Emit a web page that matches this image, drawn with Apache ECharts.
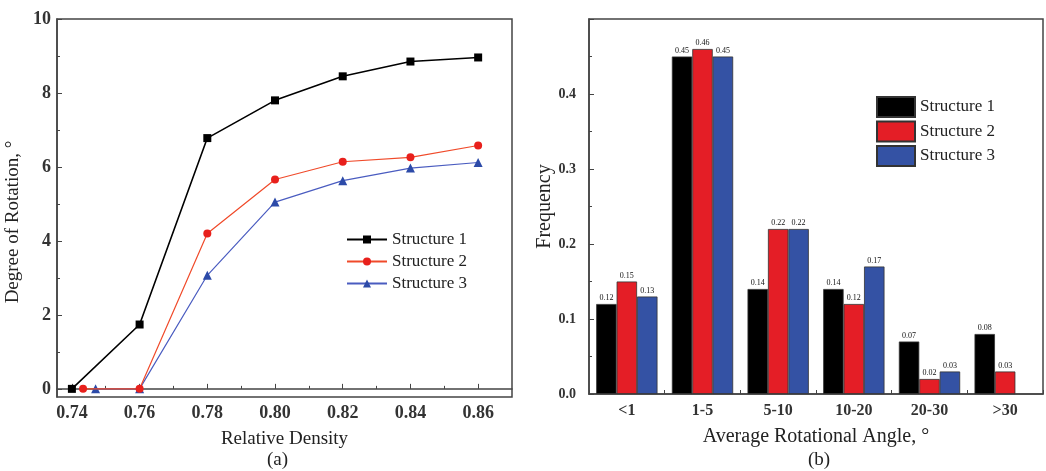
<!DOCTYPE html>
<html>
<head>
<meta charset="utf-8">
<script src="https://cdn.jsdelivr.net/npm/echarts@6/dist/echarts.min.js"></script>
<style>html,body{margin:0;padding:0;background:#fff}#c{width:1046px;height:471px}</style>
</head>
<body>
<div id="c"></div>
<script>
// ---- Panel (a) data ----
const seriesNames = ['Structure 1', 'Structure 2', 'Structure 3'];
const s1Density = [0.7400, 0.76, 0.78, 0.80, 0.82, 0.84, 0.86];
const s1Rotation = [0, 1.74, 6.78, 7.80, 8.45, 8.85, 8.96];
const s2Density = [0.7433, 0.76, 0.78, 0.80, 0.82, 0.84, 0.86];
const s2Rotation = [0, 0, 4.20, 5.66, 6.14, 6.26, 6.58];
const s3Density = [0.7470, 0.76, 0.78, 0.80, 0.82, 0.84, 0.86];
const s3Rotation = [0, 0, 3.07, 5.05, 5.63, 5.97, 6.12];
const densityTicks = [0.74, 0.76, 0.78, 0.80, 0.82, 0.84, 0.86];
const densityMinorTicks = [0.75, 0.77, 0.79, 0.81, 0.83, 0.85];
const rotationTicks = [0, 2, 4, 6, 8, 10];
const rotationMinorTicks = [1, 3, 5, 7, 9];

// ---- Panel (b) data ----
const angleCategories = ['<1', '1-5', '5-10', '10-20', '20-30', '>30'];
const freqS1 = [0.12, 0.45, 0.14, 0.14, 0.07, 0.08];
const freqS2 = [0.15, 0.46, 0.22, 0.12, 0.02, 0.03];
const freqS3 = [0.13, 0.45, 0.22, 0.17, 0.03, null];

const FONT = 'Liberation Serif';
const TXT = '#222';
const AX = '#444';

function pair(xs, ys) { return xs.map((x, i) => [x, ys[i]]); }

const lineColors = ['#000000', '#f04a2a', '#4a5cc0'];
const markerColors = ['#000000', '#e8201c', '#2c4aa8'];
const symbols = ['rect', 'circle', 'triangle'];
const symbolSizes = [8, 8, 9];
const lineData = [pair(s1Density, s1Rotation), pair(s2Density, s2Rotation), pair(s3Density, s3Rotation)];

const barColors = ['#000000', '#e41e26', '#3452a4'];
const barData = [freqS1, freqS2, freqS3];

const chart = echarts.init(document.getElementById('c'), null, { renderer: 'canvas' });

const series = [];
lineData.forEach((d, i) => {
  series.push({
    name: seriesNames[i], type: 'line', xAxisIndex: 0, yAxisIndex: 0,
    data: d, symbol: symbols[i], symbolSize: symbolSizes[i],
    lineStyle: { color: lineColors[i], width: i === 0 ? 1.6 : 1.2 },
    itemStyle: { color: markerColors[i] },
    color: markerColors[i],
    z: 5 - i, animation: false
  });
});
barData.forEach((d, i) => {
  series.push({
    name: seriesNames[i] + ' ', type: 'bar', xAxisIndex: 2, yAxisIndex: 2,
    data: d, barGap: '0%', barCategoryGap: '19%',
    itemStyle: { color: barColors[i], borderColor: '#333', borderWidth: 0.8 },
    label: {
      show: true, position: 'top', distance: 2, fontFamily: FONT, fontSize: 8, color: '#111',
      formatter: p => p.value == null ? '' : Number(p.value).toFixed(2)
    },
    animation: false
  });
});

const option = {
  backgroundColor: '#fff',
  animation: false,
  textStyle: { fontFamily: FONT },
  grid: [
    { left: 57, top: 19, width: 455, height: 378, show: true, borderColor: AX, borderWidth: 1.5, backgroundColor: 'transparent' },
    { left: 589, top: 19, width: 454, height: 375, show: true, borderColor: AX, borderWidth: 1.5, backgroundColor: 'transparent' }
  ],
  xAxis: [
    {
      type: 'value', gridIndex: 0, min: 0.7356, max: 0.870,
      name: 'Relative Density', nameLocation: 'middle', nameGap: 33,
      nameTextStyle: { fontFamily: FONT, fontSize: 19, color: TXT },
      axisLine: { show: true, lineStyle: { color: AX, width: 1.5 } },
      axisTick: { show: true, inside: true, length: 5, customValues: densityTicks, lineStyle: { color: AX } },
      axisLabel: { customValues: densityTicks, margin: 7, fontFamily: FONT, fontSize: 18, fontWeight: 'bold', color: '#333', formatter: v => v.toFixed(2) },
      splitLine: { show: false }
    },
    {
      type: 'value', gridIndex: 0, min: 0.7356, max: 0.870, position: 'bottom',
      axisLine: { show: false },
      axisTick: { show: true, inside: true, length: 3, customValues: densityMinorTicks, lineStyle: { color: AX } },
      axisLabel: { show: false }, splitLine: { show: false }
    },
    {
      type: 'category', gridIndex: 1, data: angleCategories,
      name: 'Average Rotational Angle, °', nameLocation: 'middle', nameGap: 33,
      nameTextStyle: { fontFamily: FONT, fontSize: 20, color: TXT },
      axisLine: { show: true, lineStyle: { color: AX, width: 1.5 } },
      axisTick: { show: true, inside: true, length: 4, lineStyle: { color: AX } },
      axisLabel: { margin: 9, fontFamily: FONT, fontSize: 16, fontWeight: 'bold', color: '#333' },
      splitLine: { show: false }
    }
  ],
  yAxis: [
    {
      type: 'value', gridIndex: 0, min: -0.22, max: 10,
      name: 'Degree of Rotation, °', nameLocation: 'middle', nameGap: 34,
      nameTextStyle: { fontFamily: FONT, fontSize: 19, color: TXT, padding: [0, 28, 0, 0] },
      axisLine: { show: true, lineStyle: { color: AX, width: 1.5 } },
      axisTick: { show: true, inside: true, length: 5, customValues: rotationTicks, lineStyle: { color: AX } },
      axisLabel: { customValues: rotationTicks, margin: 6, fontFamily: FONT, fontSize: 18, fontWeight: 'bold', color: '#333' },
      splitLine: { show: false }
    },
    {
      type: 'value', gridIndex: 0, min: -0.22, max: 10, position: 'left',
      axisLine: { show: false },
      axisTick: { show: true, inside: true, length: 3, customValues: rotationMinorTicks, lineStyle: { color: AX } },
      axisLabel: { show: false }, splitLine: { show: false }
    },
    {
      type: 'value', gridIndex: 1, min: 0, max: 0.5, interval: 0.1,
      name: 'Frequency', nameLocation: 'middle', nameGap: 34,
      nameTextStyle: { fontFamily: FONT, fontSize: 20, color: TXT },
      axisLine: { show: true, lineStyle: { color: AX, width: 1.5 } },
      axisTick: { show: true, inside: true, length: 5, lineStyle: { color: AX } },
      minorTick: { show: true, splitNumber: 2, length: 3, lineStyle: { color: AX } },
      axisLabel: { margin: 13, fontFamily: FONT, fontSize: 14, fontWeight: 'bold', color: '#333', showMaxLabel: false, formatter: v => v.toFixed(1) },
      splitLine: { show: false }
    }
  ],
  legend: [
    {
      data: seriesNames, orient: 'vertical', left: 341, top: 226, itemGap: 5,
      itemWidth: 40, itemHeight: 10,
      textStyle: { fontFamily: FONT, fontSize: 17, color: TXT }
    },
    {
      data: seriesNames.map(n => n + ' '), orient: 'vertical', left: 871, top: 91, itemGap: 2.5,
      itemWidth: 38, itemHeight: 20, icon: 'rect',
      textStyle: { fontFamily: FONT, fontSize: 17, color: TXT }
    }
  ],
  graphic: [
    { type: 'text', left: 267, top: 451, style: { text: '(a)', font: '19px "Liberation Serif"', fill: TXT } },
    { type: 'text', left: 808, top: 451, style: { text: '(b)', font: '19px "Liberation Serif"', fill: TXT } }
  ],
  series: series
};
chart.setOption(option);
</script>
</body>
</html>
